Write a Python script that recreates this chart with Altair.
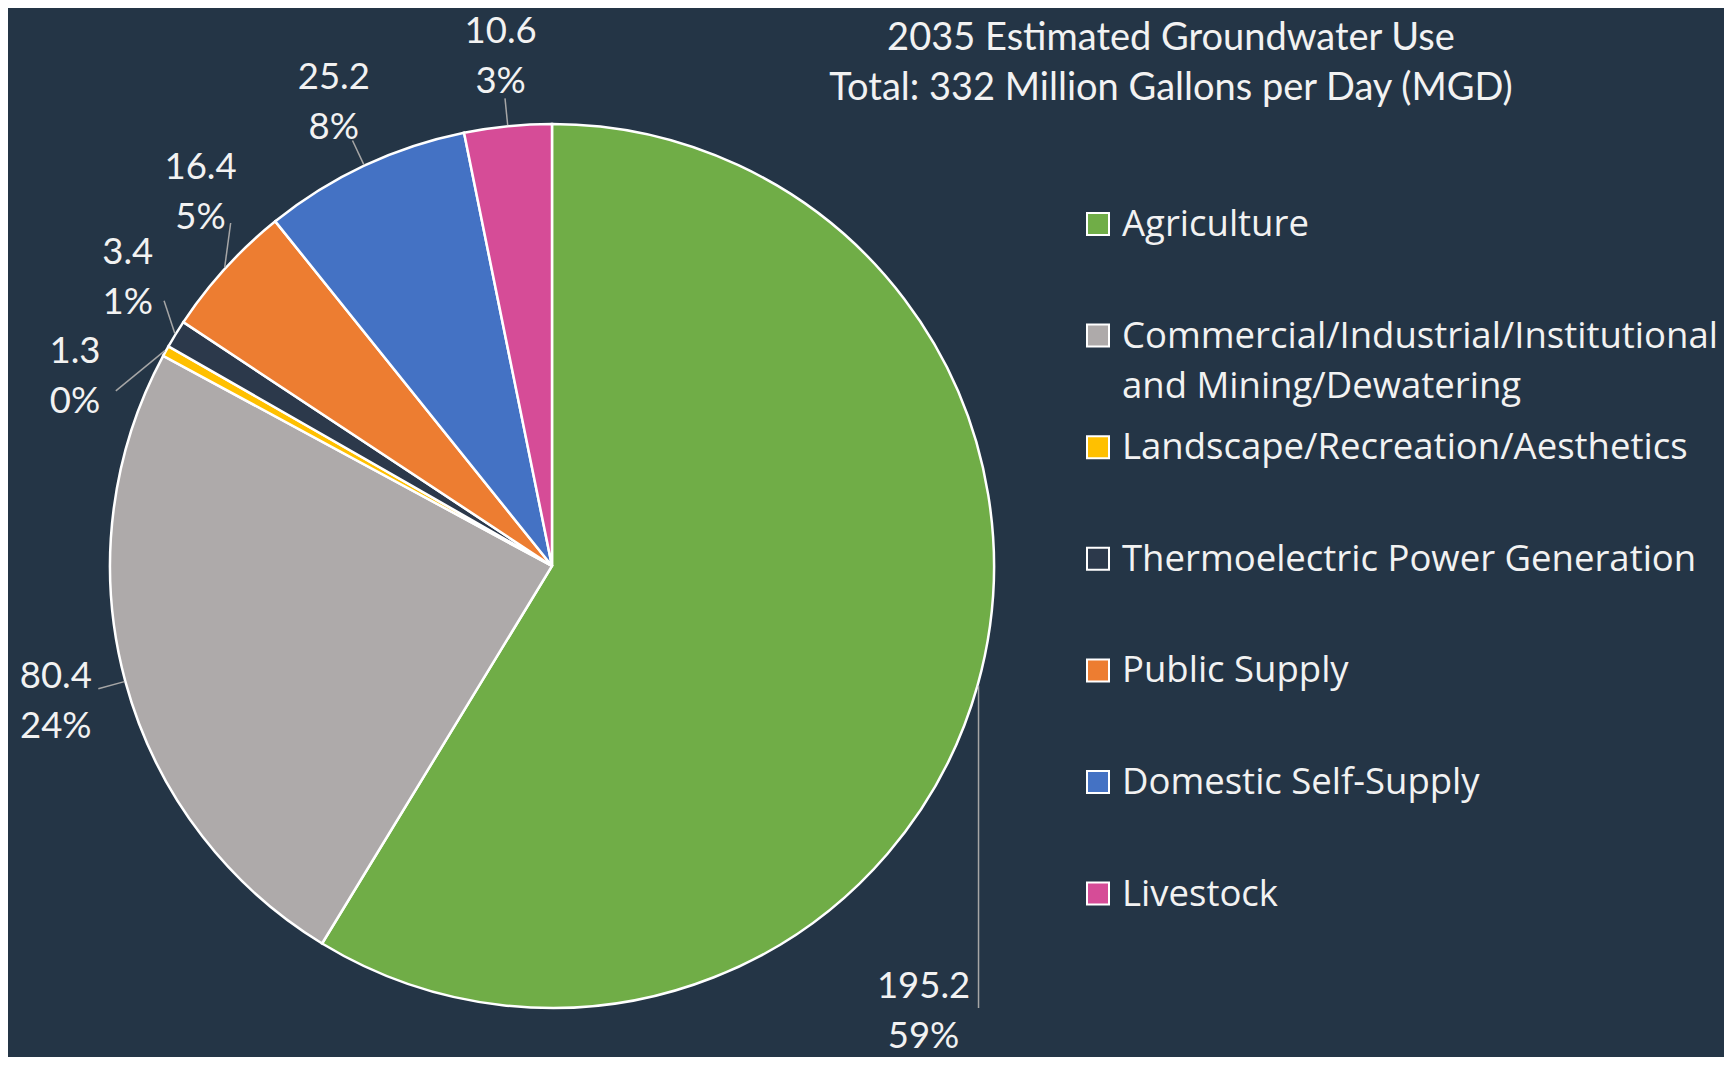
import math
import altair as alt
import pandas as pd

# ---------------- data ----------------
categories = [
    "Agriculture",
    "Commercial/Industrial/Institutional and Mining/Dewatering",
    "Landscape/Recreation/Aesthetics",
    "Thermoelectric Power Generation",
    "Public Supply",
    "Domestic Self-Supply",
    "Livestock",
]
legend_labels = [
    "Agriculture",
    "Commercial/Industrial/Institutional\nand Mining/Dewatering",
    "Landscape/Recreation/Aesthetics",
    "Thermoelectric Power Generation",
    "Public Supply",
    "Domestic Self-Supply",
    "Livestock",
]
values_mgd = [195.2, 80.4, 1.3, 3.4, 16.4, 25.2, 10.6]
colors = ["#70AD47", "#AEAAAA", "#FFC000", "#2C394B", "#ED7D31", "#4472C4", "#D64C97"]
title_lines = ["2035 Estimated Groundwater Use", "Total: 332 Million Gallons per Day (MGD)"]

# ---------------- layout ----------------
W, H = 1716, 1049
CX, CY, R = 544, 558, 442
BG = "#243546"
TXT = "#F2F2F2"
LEAD = "#A6A6A6"
LABEL_R = 514
LEAD_R = R + 28
MIN_GAP = 12.5
LEG_X, LEG_Y0, LEG_STEP = 1090, 216, 111.6
LABEL_FS = 36.5
LEG_FS = 36.5
TITLE_FS = 38

total = sum(values_mgd)

# mid-angle of each slice (degrees, clockwise from 12 o'clock)
mids = []
acc = 0.0
for v in values_mgd:
    mids.append((acc + v / 2) / total * 360)
    acc += v

# spread label angles on the left half so labels do not overlap
lab = list(mids)
left = [i for i in range(len(lab)) if lab[i] >= 180]
for _ in range(300):
    for a, b in zip(left, left[1:]):
        d = lab[b] - lab[a]
        if d < MIN_GAP:
            s = (MIN_GAP - d) / 2
            lab[a] -= s
            lab[b] += s


def pol(r, deg):
    t = math.radians(deg)
    return CX + r * math.sin(t), CY - r * math.cos(t)


rows = []
for i, v in enumerate(values_mgd):
    ex, ey = pol(R + 1, mids[i])
    if mids[i] < 180:
        lx2, ly2 = ex, CY + R
        tx, ty = ex - 55, CY + R + 2
    else:
        lx2, ly2 = pol(LEAD_R, lab[i])
        tx, ty = pol(LABEL_R, lab[i])
    rows.append(dict(
        category=categories[i], value=v, idx=i,
        ex=ex, ey=ey, lx2=lx2, ly2=ly2, tx=tx, ty=ty,
        label=f"{v:.1f}\n{round(100 * v / total)}%",
    ))
pie_df = pd.DataFrame(rows)

xs = alt.Scale(domain=[0, W], nice=False, zero=False)
ys = alt.Scale(domain=[0, H], nice=False, zero=False, reverse=True)
cscale = alt.Scale(domain=categories, range=colors)

pie = alt.Chart(pie_df).mark_arc(outerRadius=R, stroke="white", strokeWidth=2.5).encode(
    theta=alt.Theta("value:Q", stack=True),
    order=alt.Order("idx:Q"),
    color=alt.Color("category:N", scale=cscale, legend=None),
    x=alt.XDatum(CX, type="quantitative", scale=xs, axis=None),
    y=alt.YDatum(CY, type="quantitative", scale=ys, axis=None),
)

leaders = alt.Chart(pie_df).mark_rule(color=LEAD, strokeWidth=1.5).encode(
    x=alt.X("ex:Q", scale=xs, axis=None),
    y=alt.Y("ey:Q", scale=ys, axis=None),
    x2="lx2:Q",
    y2="ly2:Q",
)

labels = alt.Chart(pie_df).mark_text(
    lineBreak="\n", align="center", baseline="alphabetic", dy=-12,
    font="Lato", fontSize=LABEL_FS, lineHeight=50, color=TXT,
).encode(
    x=alt.X("tx:Q", scale=xs, axis=None),
    y=alt.Y("ty:Q", scale=ys, axis=None),
    text="label:N",
)

leg_df = pd.DataFrame({"category": categories, "label": legend_labels, "idx": list(range(len(categories)))})
leg_base = alt.Chart(leg_df).transform_calculate(
    ly=f"{LEG_Y0} + datum.idx * {LEG_STEP}"
)
leg_sq = leg_base.mark_square(size=484, stroke="white", strokeWidth=2, opacity=1).encode(
    x=alt.XDatum(LEG_X, type="quantitative", scale=xs, axis=None),
    y=alt.Y("ly:Q", scale=ys, axis=None),
    color=alt.Color("category:N", scale=cscale, legend=None),
)
leg_txt = leg_base.mark_text(
    lineBreak="\n", align="left", baseline="alphabetic", dy=12,
    font="Open Sans", fontSize=LEG_FS, lineHeight=50, color=TXT,
).encode(
    x=alt.XDatum(LEG_X + 24, type="quantitative", scale=xs, axis=None),
    y=alt.Y("ly:Q", scale=ys, axis=None),
    text="label:N",
)

title_df = pd.DataFrame({"t": title_lines, "i": list(range(len(title_lines)))})
title = alt.Chart(title_df).transform_calculate(ty="29 + datum.i * 50").mark_text(
    align="center", baseline="alphabetic", dy=13, font="Lato", fontSize=TITLE_FS, color=TXT,
).encode(
    x=alt.XDatum(1163, type="quantitative", scale=xs, axis=None),
    y=alt.Y("ty:Q", scale=ys, axis=None),
    text="t:N",
)

chart = alt.layer(pie, leaders, labels, leg_sq, leg_txt, title).properties(
    width=W, height=H, background=BG, padding=0,
    autosize=alt.AutoSizeParams(type="none"),
).configure_view(stroke=None)

chart.save("out.html", embed_options={"renderer": "svg", "actions": False})
